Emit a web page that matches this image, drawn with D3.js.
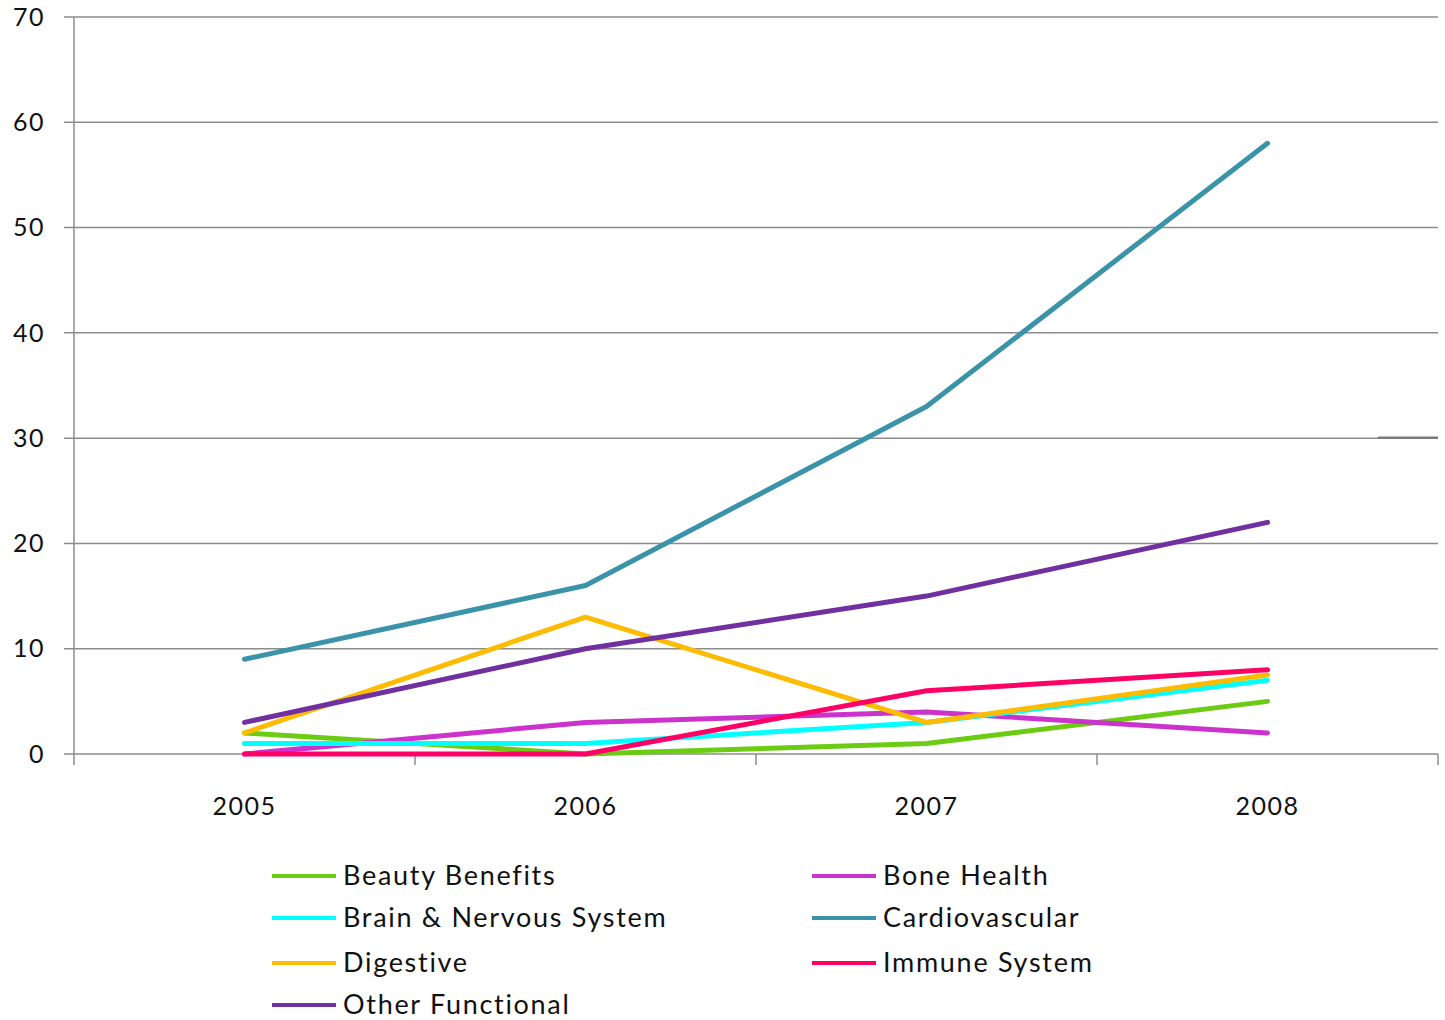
<!DOCTYPE html>
<html>
<head>
<meta charset="utf-8">
<script src="https://cdn.jsdelivr.net/npm/d3@7"></script>
<style>
  html, body { margin: 0; padding: 0; background: #fff; }
  svg { display: block; }
  text { font-family: Lato, "Open Sans", sans-serif; fill: #111; }
</style>
</head>
<body>
<svg id="chart" width="1445" height="1020"></svg>
<script>
// Years on the category axis
const years = ["2005", "2006", "2007", "2008"];

// Series values per year
const beautyBenefits   = [2, 0, 1, 5];
const boneHealth       = [0, 3, 4, 2];
const brainNervous     = [1, 1, 3, 7];
const cardiovascular   = [9, 16, 33, 58];
const digestive        = [2, 13, 3, 7.5];
const immuneSystem     = [0, 0, 6, 8];
const otherFunctional  = [3, 10, 15, 22];

const seriesNames = ["Beauty Benefits", "Bone Health", "Brain & Nervous System",
  "Cardiovascular", "Digestive", "Immune System", "Other Functional"];
const seriesValues = [beautyBenefits, boneHealth, brainNervous, cardiovascular,
  digestive, immuneSystem, otherFunctional];
const seriesColors = ["#6ccc14", "#cc33cc", "#00ffff", "#3a93a9", "#ffbb00", "#ff0066", "#7030a0"];

// Y axis tick values
const yTicks = [0, 10, 20, 30, 40, 50, 60, 70];

const svg = d3.select("#chart");
const plot = { left: 74, right: 1438, top: 17, bottom: 754 };

const x = d3.scaleBand().domain(years).range([plot.left, plot.right]);
const y = d3.scaleLinear().domain([0, 70]).range([plot.bottom, plot.top]);

// Horizontal gridlines
svg.append("g").selectAll("line").data(yTicks).join("line")
  .attr("x1", plot.left - 10).attr("x2", plot.right)
  .attr("y1", d => y(d)).attr("y2", d => y(d))
  .attr("stroke", "#8c8c8c").attr("stroke-width", 1.5);

// Small darker segment on the 30 gridline at the far right
svg.append("line")
  .attr("x1", plot.right - 60).attr("x2", plot.right)
  .attr("y1", y(30) - 0.5).attr("y2", y(30) - 0.5)
  .attr("stroke", "#7a7a7a").attr("stroke-width", 2.5);

// Y axis line and labels
svg.append("line")
  .attr("x1", plot.left).attr("x2", plot.left)
  .attr("y1", plot.top).attr("y2", plot.bottom)
  .attr("stroke", "#8c8c8c").attr("stroke-width", 1.5);

svg.append("g").selectAll("text").data(yTicks).join("text")
  .attr("x", 45).attr("y", d => y(d))
  .attr("dy", "0.35em")
  .attr("text-anchor", "end")
  .attr("font-size", 25)
  .attr("letter-spacing", 1.5)
  .text(d => d);

// X axis with tick marks at category boundaries
const boundaries = years.map(yr => x(yr)).concat([plot.right]);
svg.append("g").selectAll("line").data(boundaries).join("line")
  .attr("x1", d => d).attr("x2", d => d)
  .attr("y1", plot.bottom).attr("y2", plot.bottom + 11)
  .attr("stroke", "#8c8c8c").attr("stroke-width", 1.5);

svg.append("g").selectAll("text").data(years).join("text")
  .attr("x", d => x(d) + x.bandwidth() / 2)
  .attr("y", 806)
  .attr("dy", "0.35em")
  .attr("text-anchor", "middle")
  .attr("font-size", 25)
  .attr("letter-spacing", 1.5)
  .text(d => d);

// Series lines
const line = d3.line()
  .x((d, i) => x(years[i]) + x.bandwidth() / 2)
  .y(d => y(d));

svg.append("g").selectAll("path").data(seriesValues).join("path")
  .attr("d", d => line(d))
  .attr("fill", "none")
  .attr("stroke", (d, i) => seriesColors[i])
  .attr("stroke-width", 5)
  .attr("stroke-linecap", "round")
  .attr("stroke-linejoin", "round");

// Legend: two columns, four rows
const legendCols = [272, 812];
const legendRows = [876, 918, 963, 1005];
const legend = svg.append("g").selectAll("g").data(seriesNames).join("g")
  .attr("transform", (d, i) => `translate(${legendCols[i % 2]},${legendRows[Math.floor(i / 2)]})`);

legend.append("line")
  .attr("x1", 0).attr("x2", 64)
  .attr("stroke", (d, i) => seriesColors[i])
  .attr("stroke-width", 4);

legend.append("text")
  .attr("x", 71).attr("dy", "0.35em")
  .attr("font-size", 27)
  .attr("letter-spacing", 1.7)
  .text(d => d);
</script>
</body>
</html>
